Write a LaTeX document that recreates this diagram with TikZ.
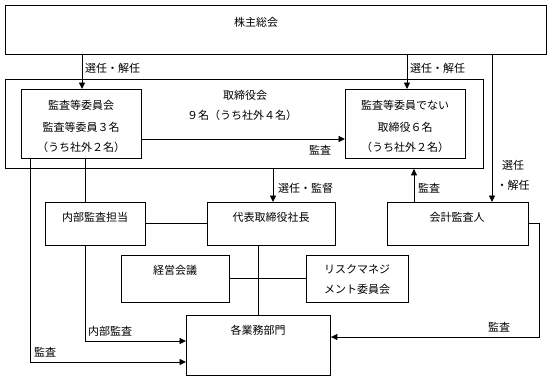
\documentclass[tikz,border=0pt]{standalone}
\usepackage{fontspec}
\setmainfont{Noto Sans CJK JP}
\usetikzlibrary{arrows.meta}
\begin{document}
\begin{tikzpicture}[x=1pt,y=-1pt,
  box/.style={draw, line width=0.9pt, inner sep=0pt, anchor=north west},
  txt/.style={inner sep=0pt, font=\fontsize{11}{12}\selectfont},
  ln/.style={line width=0.9pt},
  arr/.style={line width=0.9pt, -{Triangle[length=6.5pt,width=6pt]}}]
\useasboundingbox (0,0) rectangle (553,383);
% boxes
\node[box, minimum width=541pt, minimum height=49pt] (sh) at (5,5) {};
\node[box, minimum width=478pt, minimum height=89pt] (bd) at (5,79) {};
\node[box, minimum width=120pt, minimum height=69pt] (ac) at (21,89) {};
\node[box, minimum width=120pt, minimum height=69pt] (nd) at (345,89) {};
\node[box, minimum width=141pt, minimum height=43pt] (au) at (387,202) {};
\node[box, minimum width=100pt, minimum height=43pt] (ia) at (45,202) {};
\node[box, minimum width=128pt, minimum height=43pt] (ceo) at (207,202) {};
\node[box, minimum width=108pt, minimum height=47pt] (mc) at (121,255) {};
\node[box, minimum width=102pt, minimum height=47pt] (rm) at (306,255) {};
\node[box, minimum width=144pt, minimum height=60pt] (dept) at (186,315) {};
% texts
\node[txt] (t1) at (256,22) {株主総会};
\node[txt] (t2) at (245,95) {取締役会};
\node[txt] (t3) at (242,115) {９名（うち社外４名）};
\node[txt] (t4) at (81,105) {監査等委員会};
\node[txt] (t5) at (81,127) {監査等委員３名};
\node[txt] (t6) at (81,147) {（うち社外２名）};
\node[txt] (t7) at (405,105) {監査等委員でない};
\node[txt] (t8) at (405,127) {取締役６名};
\node[txt] (t9) at (405,147) {（うち社外２名）};
\node[txt] (t10) at (457,217) {会計監査人};
\node[txt] (t11) at (95,217) {内部監査担当};
\node[txt] (t12) at (271,217) {代表取締役社長};
\node[txt] (t13) at (175,270) {経営会議};
\node[txt] (t14) at (357,269) {リスクマネジ};
\node[txt] (t15) at (357,289) {メント委員会};
\node[txt] (t16) at (258,330) {各業務部門};
% labels
\node[txt, anchor=west] (l1) at (85,68) {選任・解任};
\node[txt, anchor=west] (l2) at (410,68) {選任・解任};
\node[txt] (l3) at (320,150) {監査};
\node[txt] (l4) at (513,165) {選任};
\node[txt] (l5) at (513,185) {・解任};
\node[txt, anchor=west] (l6) at (278,188) {選任・監督};
\node[txt, anchor=west] (l7) at (418,188) {監査};
\node[txt, anchor=west] (l8) at (88,331) {内部監査};
\node[txt, anchor=west] (l9) at (34,352) {監査};
\node[txt] (l10) at (499,327) {監査};
% connectors
\draw[arr] (sh.south -| 82,0) -- (ac.north -| 82,0);
\draw[arr] (sh.south -| 407,0) -- (nd.north -| 407,0);
\draw[arr] (ac.east |- 0,139) -- (nd.west |- 0,139);
\draw[arr] (sh.south -| 492,0) -- (au.north -| 492,0);
\draw[arr] (au.north -| 414,0) -- (bd.south -| 414,0);
\draw[arr] (bd.south -| 273,0) -- (ceo.north -| 273,0);
\draw[ln] (ac.south -| 85,0) -- (ia.north -| 85,0);
\draw[arr] (ac.south -| 30,0) |- (dept.west |- 0,362);
\draw[arr] (ia.south -| 85,0) |- (dept.west |- 0,341);
\draw[ln] (ia.east |- 0,223) -- (ceo.west |- 0,223);
\draw[ln] (mc.east |- 0,278) -- (rm.west |- 0,278);
\draw[ln] (ceo.south -| 258,0) -- (dept.north -| 258,0);
\draw[arr] (au.east |- 0,223) -- (539,223) |- (dept.east |- 0,337);
\end{tikzpicture}
\end{document}
